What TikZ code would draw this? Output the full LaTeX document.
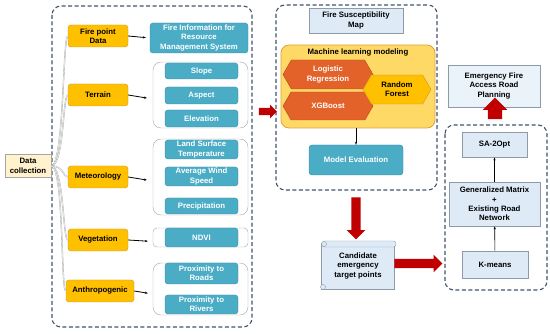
\documentclass[tikz,border=0pt]{standalone}
\usepackage{fontspec}
\setmainfont{Liberation Sans}
\usetikzlibrary{
  shapes.geometric,
  shapes.arrows,
  shapes.symbols,
  arrows.meta,
  positioning,
  calc
}
\definecolor{srcorange}{HTML}{FFC000}
\definecolor{srcedge}{HTML}{C9962A}
\definecolor{tealfill}{HTML}{4BACC6}
\definecolor{tealedge}{HTML}{3B8BA3}
\definecolor{paleblue}{HTML}{DEEBF7}
\definecolor{paleedge}{HTML}{8C9AAA}
\definecolor{mlyellow}{HTML}{FFD966}
\definecolor{mledge}{HTML}{E0A040}
\definecolor{hexred}{HTML}{E2622A}
\definecolor{hexedge}{HTML}{B5481C}
\definecolor{blockred}{HTML}{C00000}
\definecolor{framegray}{HTML}{44546A}
\definecolor{dcfill}{HTML}{FFF2CC}

\begin{document}
\begin{tikzpicture}[
    x=1pt, y=-1pt,
    every node/.style={font=\fontsize{7.8}{9.3}\selectfont\bfseries, align=center, inner sep=1pt},
    dashframe/.style={draw=framegray, line width=1.1pt, dash pattern=on 4pt off 2.5pt, rounded corners=9pt},
    srcbox/.style={rectangle, draw=srcedge, fill=srcorange, rounded corners=3pt, minimum height=22pt},
    tealbox/.style={rectangle, draw=tealedge, fill=tealfill, text=white, rounded corners=3pt, minimum width=73pt},
    groupbox/.style={rectangle, draw=gray!70, fill=white, rounded corners=8pt, minimum width=95pt},
    plainbox/.style={rectangle, draw=paleedge, fill=paleblue, line width=0.8pt},
    hexnode/.style={signal, signal to=west and east, signal pointer angle=120, draw=hexedge, fill=hexred, text=white},
    blockarrow/.style={single arrow, fill=blockred, draw=none, inner sep=4.5pt, single arrow head extend=4pt},
    feedline/.style={draw=gray!70, double=white, double distance=0.5pt, line width=0.4pt},
    myarrow/.style={-{Stealth[length=3pt]}, line width=0.8pt},
]
\useasboundingbox (0,0) rectangle (550,334);

% frames
\draw[dashframe] (52,6) rectangle (252,327);
\draw[dashframe] (276,5) rectangle (437,190);
\draw[dashframe] (445,125) rectangle (547,290);

% data collection and sources
\node[rectangle, draw=gray!70, fill=dcfill, minimum width=46pt, minimum height=23pt] (dc) at (28,166) {Data\\collection};

\node[srcbox, minimum width=60pt] (fire)    at (98,36)  {Fire point\\Data};
\node[srcbox, minimum width=60pt] (terrain) at (98,95)  {Terrain};
\node[srcbox, minimum width=60pt] (meteo)   at (98,177) {Meteorology};
\node[srcbox, minimum width=60pt] (veg)     at (98,240) {Vegetation};
\node[srcbox, minimum width=68pt] (anthro)  at (100,291) {Anthropogenic};

\foreach \src in {fire,terrain,meteo,veg,anthro}
  \draw[feedline] (dc.east) .. controls (64,166) and ($(\src.west)+(-5,0)$) .. (\src.west);

% factor groups
\node[tealbox, minimum width=98pt, minimum height=30pt] (fireinfo) at (199,38) {Fire Information for\\Resource\\Management System};

\node[groupbox, minimum height=66pt] (terrgrp) at (200.5,95) {};
\node[tealbox, minimum height=16pt] (slope)  at (201.5,71)    {Slope};
\node[tealbox, minimum height=17pt] (aspect) at (201.5,95.5)  {Aspect};
\node[tealbox, minimum height=17pt] (elev)   at (201.5,118.5) {Elevation};

\node[groupbox, minimum height=76pt] (meteogrp) at (200.5,177) {};
\node[tealbox, minimum height=19pt] (lst)    at (201.5,149.5) {Land Surface\\Temperature};
\node[tealbox, minimum height=19pt] (wind)   at (201.5,176.5) {Average Wind\\Speed};
\node[tealbox, minimum height=16pt] (precip) at (201.5,206)   {Precipitation};

\node[groupbox, minimum height=19pt, rounded corners=4pt] (veggrp) at (200.5,237.5) {};
\node[tealbox, minimum height=19pt] (ndvi) at (201.5,237.5) {NDVI};

\node[groupbox, minimum height=52pt] (anthgrp) at (200.5,289) {};
\node[tealbox, minimum height=21pt] (roads)  at (201.5,273.5) {Proximity to\\Roads};
\node[tealbox, minimum height=19pt] (rivers) at (201.5,304.5) {Proximity to\\Rivers};

\draw[myarrow, shorten >=4pt] (fire.east) -- (fireinfo.west);
\draw[myarrow, shorten >=6pt] (terrain.east) -- ($(terrgrp.west)+(0,4)$);
\draw[myarrow, shorten >=6pt] (meteo.east) -- ($(meteogrp.west)+(0,4)$);
\draw[myarrow, shorten >=5pt] (veg.east) -- ($(veggrp.west)+(0,4)$);
\draw[myarrow, shorten >=5pt] (anthro.east) -- ($(anthgrp.west)+(0,5)$);

\node[blockarrow, minimum height=18pt, inner sep=3.5pt, single arrow head extend=3pt] (toml) at (266,111.5) {};

% susceptibility modelling
\node[plainbox, minimum width=94pt, minimum height=25pt] (fsm) at (356,20.5) {Fire Susceptibility\\Map};
\node[rectangle, draw=mledge, fill=mlyellow, rounded corners=8pt, line width=0.8pt,
      minimum width=154pt, minimum height=83pt] (ml) at (358,86.5) {};
\node (mltitle) at (358,53) {Machine learning modeling};
\node[hexnode, minimum width=90pt, minimum height=29pt] (logreg) at (328,74.5) {Logistic\\Regression};
\node[hexnode, minimum width=90pt, minimum height=28pt] (xgb) at (328,106) {XGBoost};
\node[hexnode, fill=srcorange, draw=srcedge, text=black, minimum width=68pt, minimum height=29pt] (rf) at (397,89.5) {Random\\Forest};
\node[tealbox, minimum width=94pt, minimum height=30pt] (meval) at (356,160) {Model Evaluation};
\draw[myarrow, line width=0.6pt] (meval.north |- ml.south) -- (meval.north);

\node[blockarrow, shape border rotate=270, minimum height=42pt, single arrow head extend=4.5pt] (down) at (356,216) {};

% candidate points
\node[rectangle, draw=paleedge, fill=paleblue, minimum width=73pt, minimum height=46pt] (cand) at (358,266) {Candidate\\emergency\\target points};
\draw[draw=paleedge, fill=paleblue, rounded corners=2.5pt] (322,241) rectangle (396,247);
\draw[draw=paleedge, fill=paleblue] (324,244) circle (2.5pt);
\draw[draw=paleedge, fill=paleblue] (323,287) circle (2.5pt);

\node[blockarrow, minimum height=48pt] (right) at (416,263.5) {};

% route planning
\node[plainbox, minimum width=66pt, minimum height=27pt] (kmeans) at (495,264.5) {K-means};
\node[plainbox, minimum width=91pt, minimum height=44pt] (genmat) at (494.5,204) {Generalized Matrix\\+\\Existing Road\\Network};
\node[plainbox, minimum width=65pt, minimum height=25pt] (sa) at (494.5,144.5) {SA-2Opt};
\node[plainbox, fill=paleblue!60, minimum width=92pt, minimum height=42pt] (efarp) at (494,86) {Emergency Fire\\Access Road\\Planning};
\draw[myarrow, line width=0.6pt] (kmeans) -- (genmat);
\draw[myarrow, line width=0.6pt] (genmat) -- (sa);

\node[blockarrow, shape border rotate=90, minimum height=12pt, inner sep=7pt, single arrow head extend=5pt] (up) at (495,112) {};

\end{tikzpicture}
\end{document}
